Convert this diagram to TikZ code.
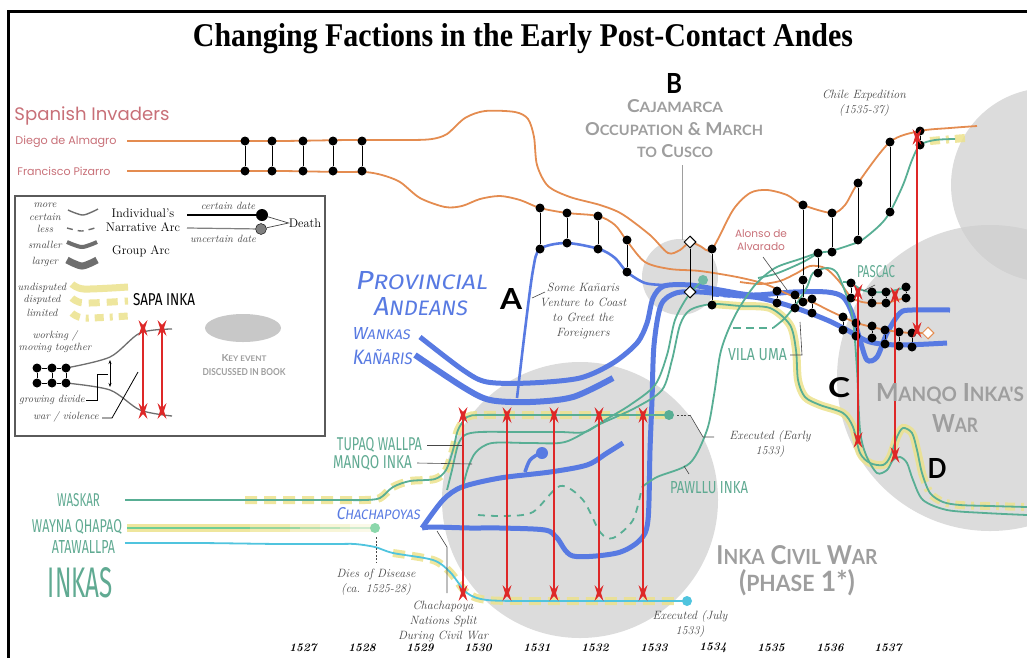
\documentclass[tikz,border=0pt]{standalone}
\usepackage{fontspec}
\usepackage{graphicx}
\usetikzlibrary{shapes.geometric,arrows.meta}
\newfontfamily\geof{Poppins}
\newfontfamily\narrowf[FakeStretch=0.6]{Fira Sans}
\newfontfamily\handf[FakeSlant=0.15]{Fira Sans}
\newfontfamily\heavyf{Lato}
\newfontfamily\titlef{Liberation Serif}
\newcommand\fitbox[3]{\resizebox{#1pt}{#2pt}{#3}}
\newcommand\fitw[2]{\resizebox{#1pt}{!}{#2}}
\definecolor{orng}{RGB}{228,140,80}
\definecolor{teal2}{RGB}{88,174,148}
\definecolor{tealtxt}{RGB}{96,170,146}
\definecolor{cyan2}{RGB}{80,196,222}
\definecolor{blu}{RGB}{88,122,226}
\definecolor{yel}{RGB}{236,226,140}
\definecolor{pink2}{RGB}{200,112,120}
\definecolor{warred}{RGB}{222,40,40}
\definecolor{keyfill}{RGB}{205,205,205}
\definecolor{keytext}{RGB}{158,158,158}
\definecolor{notegray}{RGB}{70,70,70}
\definecolor{leggray}{RGB}{110,110,110}
\definecolor{wqgreen}{RGB}{110,205,150}
\definecolor{legbox}{RGB}{90,90,90}
\definecolor{legell}{RGB}{200,200,200}
\tikzset{
  orangeline/.style={orng, line width=1.8pt},
  tealline/.style={teal2, line width=1.8pt},
  cyanline/.style={cyan2, line width=1.8pt},
  blueband/.style={blu, line width=5pt},
  bluethin/.style={blu, line width=2.6pt},
  sapa/.style={yel, line width=8pt, opacity=0.85},
  sapadash/.style={sapa, dash pattern=on 12pt off 7pt},
  sapalim/.style={sapa, dash pattern=on 10pt off 6pt on 3pt off 6pt},
  dot/.style={circle, fill=black, inner sep=0pt, minimum size=9pt},
  rung/.style={black, line width=1pt},
  keyevent/.style={fill=keyfill, opacity=0.7},
  note/.style={font=\itshape\fontsize{12}{15}\selectfont, text=notegray, align=center, inner sep=0pt},
  legnote/.style={font=\itshape\fontsize{10.5}{12}\selectfont, text=notegray, align=center, inner sep=0pt},
  pointer/.style={notegray, line width=0.6pt},
  warline/.style={warred, line width=1.4pt},
  diam/.style={diamond, draw=black, fill=white, inner sep=0pt, minimum size=12pt, line width=1pt},
  lbl/.style={inner sep=0pt},
  burst/.pic={\fill[warred] (-4.5,-8) -- (0,-3) -- (4.5,-8) -- (2,0) -- (4.5,8) -- (0,3) -- (-4.5,8) -- (-2,0) -- cycle;}
}
\newcommand\warmark[3]{\draw[warline] (#1,#2) -- (#1,#3); \pic at (#1,#2) {burst}; \pic at (#1,#3) {burst};}
\begin{document}
\begin{tikzpicture}[x=1pt,y=-1pt]
\useasboundingbox (0,0) rectangle (1027,657);
\begin{scope}
\clip (0,0) rectangle (1027,657);
% ---------- key event circles
\fill[keyevent] (580,500) circle[radius=138];
\fill[keyevent] (680,277) circle[radius=38];
\fill[keyevent] (990,378) circle[radius=153];
\fill[keyevent] (1048,185) circle[radius=97];

% ---------- frame
\draw[line width=3pt] (8,660) -- (8,11) -- (1030,11);

% ---------- Sapa Inka bands
\draw[sapadash] plot[smooth] coordinates {(245,500) (280,500) (340,500) (365,500) (380,498) (393,487) (410,481) (435,479) (446,470) (453,450) (458,430) (467,417) (480,415) (520,415) (570,415) (620,415) (665,415)};
\draw[sapadash] plot[smooth] coordinates {(393,553) (433,560) (450,572) (467,593) (487,600) (530,601) (580,601) (630,601) (680,601)};
\draw[sapa] (127,528) -- (250,528);
\draw[sapa, opacity=0.7] (250,528) -- (290,528);
\draw[sapa, opacity=0.5] (290,528) -- (320,528);
\draw[sapa, opacity=0.35] (320,528) -- (350,528);
\draw[sapa, opacity=0.2] (350,528) -- (372,528);
\draw[sapa] plot[smooth] coordinates {(712,304) (740,306) (770,308) (790,325) (796,350) (798,380) (805,397) (820,405) (843,413) (853,427) (860,453) (870,463) (883,465) (890,457) (897,437) (903,428) (912,433) (917,450) (922,473)};
\draw[sapalim] plot[smooth] coordinates {(922,473) (930,493) (943,502) (960,505) (990,506) (1027,507)};
\draw[sapalim] (930,141) -- (965,138);

% ---------- Provincial Andeans (blue)
\draw[blu, line width=6pt] plot[smooth] coordinates {(415,355) (463,387) (490,400) (530,402) (573,397) (613,378)};
\draw[blueband] plot[smooth] coordinates {(420,337) (463,370) (487,382) (530,383) (580,378) (613,363) (637,343) (647,323) (653,298) (664,286) (690,285) (720,290) (753,295) (793,292) (827,292) (843,297) (852,313) (860,340) (867,360) (877,357) (887,333) (900,313) (912,310) (950,310)};
\draw[blueband] plot[smooth] coordinates {(422,528) (433,527) (470,528) (500,528) (545,530) (557,538) (573,556) (617,553) (640,540) (648,520) (650,450) (652,400) (654,345) (661,305) (676,293) (700,292) (730,295) (760,298) (793,307) (827,320) (847,330) (870,342) (900,345) (947,343)};
\draw[blueband] plot[smooth] coordinates {(422,528) (443,500) (462,487) (500,478) (550,472) (587,465) (607,453) (623,443)};
\draw[blu, line width=3.5pt] plot[smooth] coordinates {(525,472) (530,460) (540,453)};
\node[circle, fill=blu, inner sep=0pt, minimum size=12pt] (chachdot) at (542,453) {};
\draw[bluethin] plot[smooth] coordinates {(517,398) (525,330) (533,270) (540,249) (566,243) (599,249) (615,258) (627,272) (645,283) (665,285)};
\draw[blu, line width=5pt, dash pattern=on 7pt off 4pt] (712,294) -- (760,297);

% ---------- Spanish (orange)
\draw[orangeline] plot[smooth] coordinates {(127,141) (200,141) (280,141) (350,140) (410,140) (432,139) (447,134) (465,118) (485,111) (515,112) (528,119) (534,137) (537,165) (548,186) (570,197) (600,205) (622,214) (650,235) (668,253) (680,250) (690,242) (700,246) (712,249) (733,210) (750,193) (767,190) (787,195) (803,205) (832,213) (845,205) (858,183) (890,142) (920,131) (950,128) (977,126)};
\draw[orangeline] plot[smooth] coordinates {(127,171) (200,171) (280,171) (340,172) (365,172) (382,175) (400,182) (420,198) (445,207) (462,206) (480,199) (500,196) (520,200) (540,208) (567,213) (598,216) (615,225) (627,241) (645,262) (670,269) (700,271) (737,277) (765,284) (790,295) (812,302) (828,310) (843,317) (857,323) (872,327) (886,330) (899,332) (912,333) (923,333)};
\draw[orangeline] plot[smooth] coordinates {(740,282) (760,284) (780,281) (797,273) (810,266) (825,268) (838,280) (851,297) (862,302) (872,303) (886,303) (897,300) (906,298)};
\node[diamond, draw=orng, fill=white, inner sep=0pt, minimum size=12pt, line width=1pt] (pizdeath) at (928,333) {};

% ---------- Inka individuals (teal / cyan)
\draw[tealline] plot[smooth] coordinates {(125,500) (200,500) (280,500) (340,500) (365,500) (380,498) (393,487) (410,481) (435,479) (446,470) (453,450) (458,430) (467,417) (480,415) (520,415) (570,415) (620,415) (669,415)};
\node[circle, fill=teal2, inner sep=0pt, minimum size=10pt] (waskardeath) at (669,415) {};
\draw[wqgreen, line width=1.8pt] (127,528) -- (250,528);
\draw[wqgreen, line width=1.8pt, opacity=0.7] (250,528) -- (300,528);
\draw[wqgreen, line width=1.8pt, opacity=0.45] (300,528) -- (340,528);
\draw[wqgreen, line width=1.8pt, opacity=0.3] (340,528) -- (372,528);
\node[circle, fill=wqgreen!80, inner sep=0pt, minimum size=10pt] (waynadeath) at (375,528) {};
\draw[cyanline] plot[smooth] coordinates {(125,543) (200,543) (280,544) (335,544) (355,544) (375,547) (393,553) (433,560) (450,572) (467,593) (487,600) (530,601) (580,601) (630,601) (687,601)};
\node[circle, fill=cyan2, inner sep=0pt, minimum size=10pt] (atadeath) at (687,601) {};
\draw[tealline] plot[smooth] coordinates {(447,490) (452,470) (458,445) (465,435) (480,432) (520,432) (560,432) (585,432) (605,420) (630,405) (655,385) (667,355) (675,320) (688,296) (702,281)};
\node[circle, fill=teal2!85, inner sep=0pt, minimum size=10pt] (tupaqdeath) at (703,280) {};
\draw[tealline] plot[smooth] coordinates {(462,490) (468,468) (476,452) (492,443) (530,443) (565,442) (598,425) (635,408) (662,390) (672,360) (680,325) (690,310) (712,304) (740,306) (770,308) (790,325) (796,350) (798,380) (805,397) (820,405) (843,413) (853,427) (860,453) (870,463) (883,465) (890,457) (897,437) (903,428) (912,433) (917,450) (922,473) (930,493) (943,502) (960,505) (990,506) (1027,507)};
\draw[tealline, dash pattern=on 7pt off 6pt] plot[smooth] coordinates {(478,515) (505,516) (533,512) (560,486) (583,500) (600,532) (613,538) (633,520) (642,487)};
\draw[tealline] plot[smooth] coordinates {(642,487) (657,477) (690,463) (707,430) (714,395) (720,355) (727,333) (738,310) (755,285) (775,268) (800,259) (818,253) (831,251) (850,245) (862,240) (880,225) (890,212) (903,185) (912,160) (920,145) (935,140) (955,139)};
\draw[tealline] plot[smooth] coordinates {(758,278) (775,274) (790,268) (805,261) (818,253)};
\draw[tealline, dash pattern=on 8pt off 5pt] (733,328) -- (773,328);
\draw[tealline] plot[smooth] coordinates {(773,328) (785,318) (797,303) (807,287) (813,273) (827,268) (837,273) (847,297) (853,320) (857,370) (860,430) (866,455) (877,473) (887,470) (893,460) (900,457) (907,463) (913,480) (923,500) (947,510) (985,513) (1027,515)};
\draw[tealline] plot[smooth] coordinates {(843,282) (851,283) (862,290) (872,292) (886,292) (900,289) (910,286)};

% ---------- alliances (black ladders)
\foreach \x [count=\i] in {245,272,303,333,362} {
  \node[dot] (al\i) at (\x,141) {};
  \node[dot] (pz\i) at (\x,171) {};
  \draw[rung] (al\i) -- (pz\i);
}
\foreach \x/\ya/\yb [count=\i] in {540/208/249, 567/213/243, 598/216/249, 627/240/272, 777/291/303, 795/295/308, 812/299/313, 818/253/273, 832/213/252, 843/317/330, 856/323/336, 872/326/338, 885/330/344, 899/332/346, 912/333/347, 858/183/240, 890/142/212, 920/131/145, 851/283/298, 872/292/303, 886/292/303, 906/287/298, 712/249/305} {
  \node[dot] (ta\i) at (\x,\ya) {};
  \node[dot] (tb\i) at (\x,\yb) {};
  \draw[rung] (ta\i) -- (tb\i);
}
\node[dot] (v1) at (803,205) {};
\node[dot] (v2) at (803,280) {};
\node[dot] (v3) at (803,302) {};
\draw[rung] (v1) -- (v2) -- (v3);
\node[diam] (cj1) at (690,242) {};
\node[diam] (cj2) at (690,292) {};
\draw[rung] (cj1) -- (cj2);

% ---------- war
\foreach \x in {463,507,554,599,643} {\warmark{\x}{415}{593}}
\warmark{858}{292}{440}
\warmark{895}{295}{455}
\warmark{917}{137}{330}
\end{scope}

% ---------- title
\node[lbl] (title) at (523,39) {\fitbox{660}{23}{\titlef\bfseries Changing Factions in the Early Post-Contact Andes}};

% ---------- Spanish labels
\node[lbl, text=pink2] (spanish) at (92,116) {\fitw{155}{\geof Spanish Invaders}};
\node[lbl, text=pink2] (almagro) at (66,142) {\fitw{101}{\geof Diego de Almagro}};
\node[lbl, text=pink2] (pizarro) at (64,171) {\fitw{93}{\geof Francisco Pizarro}};
\node[lbl, text=pink2, align=center] (alvarado) at (761,240) {\fitw{52}{\geof Alonso de}\\[1pt]\fitw{48}{\geof Alvarado}};
\draw[pointer] (763,257) -- (787,290);

% ---------- notes
\node[note] (chile) at (864,103) {Chile Expedition\\(1535-37)};
\node[note] (kanaris) at (583,311) {Some Kañaris\\Venture to Coast\\to Greet the\\Foreigners};
\draw[pointer] (532,298) -- (545,292);
\node[note] (disease) at (376,582) {Dies of Disease\\(ca. 1525-28)};
\draw[pointer, dash pattern=on 2pt off 1.5pt] (376,537) -- (376,563);
\node[note] (chachsplit) at (443,621) {Chachapoya\\Nations Split\\During Civil War};
\draw[pointer] (437,531) -- (447,547) -- (447,593);
\node[note] (execjuly) at (690,624) {Executed (July\\1533)};
\node[note] (execearly) at (770,444) {Executed (Early\\1533)};
\draw[pointer, dash pattern=on 2pt off 1.5pt] (677,415) -- (690,415);
\draw[pointer] (690,415) -- (703,437) -- (714,437);

% ---------- Inka labels
\node[lbl, text=tealtxt] (waskar) at (78.5,500) {\fitbox{43}{13}{\narrowf WASKAR}};
\node[lbl, text=tealtxt] (wayna) at (77,527) {\fitbox{90}{13}{\narrowf WAYNA QHAPAQ}};
\node[lbl, text=tealtxt] (ata) at (83.5,547) {\fitbox{63}{13}{\narrowf ATAWALLPA}};
\node[lbl, text=tealtxt] (inkas) at (80.5,583) {\fitbox{65}{30}{\narrowf INKAS}};
\node[lbl, text=tealtxt] (tupaq) at (379.5,445) {\fitbox{85}{13}{\narrowf TUPAQ WALLPA}};
\draw[pointer] (427,445) -- (462,445);
\node[lbl, text=tealtxt] (manqo) at (372.5,463) {\fitbox{79}{13}{\narrowf MANQO INKA}};
\draw[pointer] (417,463) -- (472,464);
\node[lbl, text=tealtxt] (pawllu) at (709,488) {\fitbox{78}{12}{\narrowf PAWLLU INKA}};
\draw[pointer] (684,466) -- (689,474);
\node[lbl, text=tealtxt] (vilauma) at (757.5,355) {\fitbox{59}{12}{\narrowf VILA UMA}};
\draw[pointer] (790,355) -- (802,355) -- (800,322);
\node[lbl, text=tealtxt] (pascac) at (876,272) {\fitbox{38}{12}{\narrowf PASCAC}};
\draw[pointer] (863,291) -- (875,285);

% ---------- Provincial labels
\node[lbl, text=blu] (prov) at (421,281) {\fitbox{132}{18}{\handf P{\footnotesize ROVINCIAL}}};
\node[lbl, text=blu] (andeans) at (420,307) {\fitbox{94}{18}{\handf A{\footnotesize NDEANS}}};
\node[lbl, text=blu] (wankas) at (381,334) {\fitbox{58}{12}{\handf W{\footnotesize ANKAS}}};
\node[lbl, text=blu] (kanaris) at (382,357) {\fitbox{60}{15}{\handf K{\footnotesize AÑARIS}}};
\node[lbl, text=blu] (chach) at (378,514) {\fitbox{84}{12}{\handf C{\footnotesize HACHAPOYAS}}};

% ---------- key event labels
\node[lbl, text=keytext] (caja1) at (675,106) {\fitbox{96}{13}{\heavyf\bfseries C{\footnotesize AJAMARCA}}};
\node[lbl, text=keytext] (caja2) at (674,129) {\fitbox{178}{13}{\heavyf\bfseries O{\footnotesize CCUPATION} \& M{\footnotesize ARCH}}};
\node[lbl, text=keytext] (caja3) at (675,151) {\fitbox{76}{13}{\heavyf\bfseries {\footnotesize TO} C{\footnotesize USCO}}};
\draw[keytext, line width=0.8pt] (682,165) -- (682,240);
\node[lbl, text=keytext] (icw1) at (797,555) {\fitbox{161}{19}{\heavyf\bfseries I{\footnotesize NKA} C{\footnotesize IVIL} W{\footnotesize AR}}};
\node[lbl, text=keytext] (icw2) at (797,583) {\fitbox{116}{22}{\heavyf\bfseries ({\footnotesize PHASE} 1*)}};
\node[lbl, text=keytext] (miw1) at (950,394) {\fitbox{148}{18}{\heavyf\bfseries M{\footnotesize ANQO} I{\footnotesize NKA'S}}};
\node[lbl, text=keytext] (miw2) at (955,423) {\fitbox{46}{18}{\heavyf\bfseries W{\footnotesize AR}}};

% ---------- big letters
\node[lbl] (letA) at (511,299) {\fitbox{22}{21}{\heavyf\bfseries A}};
\node[lbl] (letB) at (674,83) {\fitbox{16}{20}{\heavyf\bfseries B}};
\node[lbl] (letC) at (839,388) {\fitbox{22}{20}{\heavyf\bfseries C}};
\node[lbl] (letD) at (937,468) {\fitbox{19}{20}{\heavyf\bfseries D}};

% ---------- years
\foreach \yr/\x in {1527/303,1528/362,1529/420,1530/478,1531/537,1532/595,1533/654,1534/713,1535/771,1536/830,1537/888} {
  \node[lbl, font=\itshape\bfseries\fontsize{11.5}{13}\selectfont] (yr\yr) at (\x,648) {\yr};
}

% ---------- legend
\draw[draw=legbox, line width=1.5pt, fill=white] (15,196) rectangle (325,436);
\node[legnote] (lmore) at (45,205) {more};
\node[legnote] (lcert) at (45,217) {certain};
\node[legnote] (lless) at (45,229) {less};
\node[legnote] (lsmall) at (45,245) {smaller};
\node[legnote] (llarge) at (45,262) {larger};
\draw[leggray, line width=1.4pt] plot[smooth] coordinates {(68,210) (83,215) (98,209)};
\draw[leggray, line width=1.4pt, dash pattern=on 6pt off 5pt] plot[smooth] coordinates {(67,228) (82,231) (98,227)};
\draw[leggray, line width=4pt] plot[smooth] coordinates {(67,242) (82,247) (97,242)};
\draw[leggray, line width=7pt] plot[smooth] coordinates {(67,260) (82,266) (97,260)};
\node[lbl, font=\fontsize{12.5}{14.5}\selectfont, align=center] (lind) at (143,220) {Individual's\\Narrative Arc};
\node[lbl, font=\fontsize{12.5}{14}\selectfont] (lgroup) at (141,251) {Group Arc};
\node[legnote] (lcd) at (228,206) {certain date};
\node[legnote] (lud) at (223,239) {uncertain date};
\node[circle, fill=black, inner sep=0pt, minimum size=12pt] (ldot1) at (262,215) {};
\node[circle, fill=gray, draw=black, inner sep=0pt, minimum size=11pt] (ldot2) at (261,229) {};
\coordinate (lstart1) at (187,215);
\coordinate (lstart2) at (187,228);
\draw[black, line width=1.2pt] (lstart1) -- (ldot1);
\draw[gray, line width=1.2pt] (lstart2) -- (ldot2);
\node[lbl, font=\fontsize{12.5}{14}\selectfont] (ldeath) at (305,223) {Death};
\draw[notegray, line width=0.7pt] (ldot1) -- (ldeath.west) -- (ldot2);
\node[legnote] (lund) at (42,288) {undisputed};
\node[legnote] (ldisp) at (42,300) {disputed};
\node[legnote] (llim) at (42,313) {limited};
\draw[sapa, line width=7pt] plot[smooth] coordinates {(72,284) (84,289) (128,287)};
\draw[sapa, line width=7pt, dash pattern=on 11pt off 7pt] plot[smooth] coordinates {(72,298) (84,303) (128,301)};
\draw[sapa, line width=7pt, dash pattern=on 9pt off 6pt on 3pt off 6pt] plot[smooth] coordinates {(72,313) (84,318) (128,316)};
\node[lbl] (lsapa) at (164,300) {\fitbox{62}{12}{\narrowf SAPA INKA}};
\node[legnote] (lwork) at (55,342) {working /\\moving together};
\draw[leggray, line width=1.3pt] plot[smooth] coordinates {(66,368) (110,357) (140,333) (172,329)};
\draw[leggray, line width=1.3pt] plot[smooth] coordinates {(66,383) (110,390) (140,410) (172,416)};
\foreach \x [count=\i] in {37,52,66} {
  \node[dot] (lu\i) at (\x,368) {};
  \node[dot] (ll\i) at (\x,383) {};
  \draw[rung] (lu\i) -- (ll\i);
}
\draw[rung] (lu1) -- (lu2) -- (lu3);
\draw[rung] (ll1) -- (ll2) -- (ll3);
\coordinate (larr1) at (110,360);
\coordinate (larr2) at (110,387);
\draw[black, line width=0.7pt, {Stealth[length=4pt]}-{Stealth[length=4pt]}] (larr1) -- (larr2);
\warmark{143}{328}{411}
\warmark{162}{328}{411}
\node[legnote] (ldiv) at (52,400) {growing divide};
\draw[black, line width=0.8pt] (86,400) -- (97,400) -- (97,374) -- (108,374);
\node[legnote] (lwar) at (66,417) {war / violence};
\draw[black, line width=0.8pt] (102,418) -- (112,418) -- (138,372);
\fill[legell] (243,328) ellipse[x radius=38, y radius=14];
\node[lbl, text=keytext] (lkey1) at (244,358) {\fitbox{45}{7}{\heavyf\bfseries K{\footnotesize EY EVENT}}};
\node[lbl, text=keytext] (lkey2) at (244,372) {\fitbox{83}{7}{\heavyf\bfseries DISCUSSED IN BOOK}};
\end{tikzpicture}
\end{document}
